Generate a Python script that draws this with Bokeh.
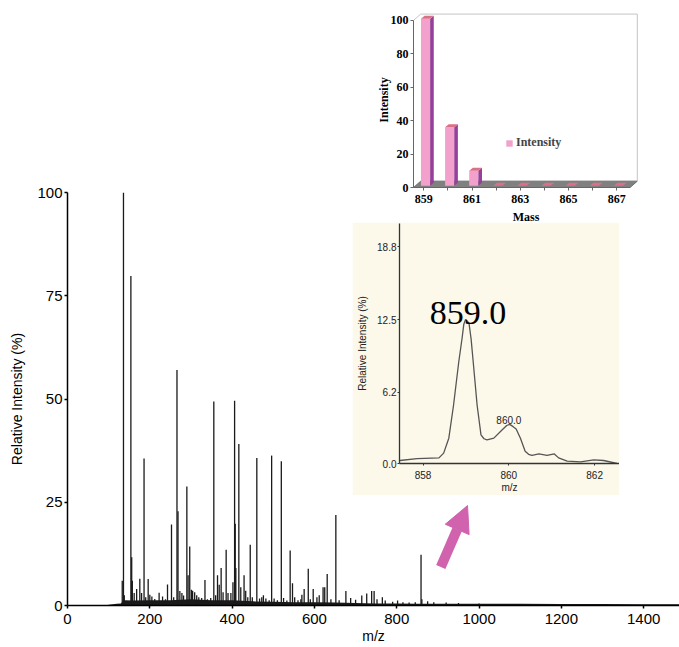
from bokeh.plotting import figure
from bokeh.layouts import column
from bokeh.models import (Range1d, SingleIntervalTicker, FixedTicker, NumeralTickFormatter,
                          Arrow, NormalHead, Legend, LegendItem)
from bokeh.core.properties import value
from bokeh.embed import file_html
from bokeh.resources import INLINE

# ---------------- data: full MS spectrum ----------------
peak_mz = [133, 136, 138, 154, 156, 157.5, 162, 168, 175.7, 180, 186, 190, 196, 200, 205, 212,
           222.6, 231, 238, 243, 252.7, 258, 266, 268.5, 273, 278, 282, 290, 293, 297, 301, 304,
           309, 314, 319, 326, 334, 340, 348, 355.5, 360, 364.5, 368.6, 373.3, 378, 385.5, 390,
           397, 402, 406, 407.5, 409, 416.3, 421, 429, 433, 438, 444, 449, 460, 466.7, 472, 476,
           482, 490, 496, 502, 510, 519.5, 525, 533, 541, 546.7, 552, 560, 567, 569.5, 575, 585,
           590, 597, 606, 611.6, 621, 625, 631, 640, 652, 660, 676.4, 688, 700, 715, 727, 739,
           745, 752, 765, 772, 790, 802, 815, 830, 845, 859, 861, 875, 890, 920, 950, 1000]
peak_int = [6, 100, 2.5, 79.8, 11.7, 6, 3, 4, 6.5, 3, 35.6, 2, 6.4, 2.6, 2.2, 1.6,
            3.1, 2.2, 1.5, 5.1, 19.6, 2, 57, 22.8, 3.5, 3.0, 2.4, 28.8, 7.3, 14.3, 3.8, 3.6,
            3.2, 2.5, 2, 1.8, 6.2, 1.5, 1.8, 49.4, 2.5, 7.3, 5, 9.1, 3.2, 13.5, 3,
            3, 5.6, 49.6, 19.8, 9.1, 39.1, 4.4, 7.3, 3.6, 2, 14.7, 2, 35.7, 1.7, 2, 2.5,
            1.7, 1.3, 36.3, 1.7, 1.3, 34.9, 1.8, 1.2, 13.3, 5.4, 2, 1.3, 1.5, 2.6, 4, 8.9,
            1.5, 4, 2, 2.5, 4.4, 4.4, 7.6, 1.5, 21.9, 1.3, 3.5, 1.8, 1.4, 2.4, 2.9, 3.5,
            3.5, 1.5, 2.0, 1.2, 0.9, 1.2, 0.8, 0.7, 0.8, 12.3, 1.5, 1.0, 0.8, 0.7, 0.6, 0.5]
base_mz = [95, 100, 110, 120, 130, 135, 140, 160, 200, 250, 300, 350, 400, 450, 500, 550, 600,
           650, 700, 750, 800, 850, 900, 950, 1000, 1100, 1200, 1300, 1400, 1487]
base_int = [0, 0.2, 0.3, 0.4, 0.5, 1.2, 1.3, 1.2, 1.3, 1.3, 1.5, 1.3, 1.3, 1.0, 0.9, 0.8, 0.8,
            0.7, 0.6, 0.5, 0.5, 0.45, 0.45, 0.45, 0.45, 0.4, 0.35, 0.35, 0.3, 0.3]

# ---------------- data: zoomed isotope region ----------------
zoom_mz = [857.46, 857.86, 858.37, 858.48, 858.60, 858.71, 858.83, 858.91, 858.95, 858.99,
           859.07, 859.12, 859.17, 859.26, 859.35, 859.42, 859.49, 859.65, 859.84, 859.95,
           860.02, 860.10, 860.17, 860.27, 860.38, 860.46, 860.54, 860.70, 860.89, 861.06,
           861.16, 861.36, 861.67, 861.98, 862.21, 862.52]
zoom_int = [0.26, 0.43, 0.49, 0.9, 2.2, 5.06, 8.77, 10.9, 12.1, 12.5,
            12.2, 10.8, 8.77, 5.06, 2.49, 2.15, 2.06, 2.2, 2.91, 3.3,
            3.4, 3.2, 3.0, 2.2, 1.06, 0.8, 0.71, 0.83, 0.71, 0.83,
            0.49, 0.2, 0.14, 0.31, 0.26, 0.0]
zoom_labels = ["859.0", "860.0"]
zoom_label_mz = [859.05, 860.0]
zoom_label_int = [13.1, 3.75]

# ---------------- data: theoretical isotope bars ----------------
bar_mass = [859, 860, 861, 862, 863, 864, 865, 866, 867]
bar_int = [100, 35, 9, 0, 0, 0, 0, 0, 0]

INK = "#1a1a1a"
ARROW = "#D062AE"
BEIGE = "#FCF8EA"
PINK = "#F3A0CD"
PURPLE = "#95409A"
TOPC = "#DC7088"

MAIN_W, MAIN_H = 679, 647

# ================= main spectrum =================
p = figure(width=MAIN_W, height=MAIN_H, x_range=Range1d(0, 1487), y_range=Range1d(0, 100),
           output_backend="svg", toolbar_location=None, frame_align=False,
           min_border_left=67, min_border_right=0, min_border_top=192, min_border_bottom=42)
p.outline_line_color = None
p.grid.visible = False
p.background_fill_alpha = 0
p.varea(x=base_mz, y1=[0] * len(base_mz), y2=base_int, fill_color=INK)
p.segment(x0=peak_mz, y0=[0] * len(peak_mz), x1=peak_mz, y1=peak_int,
          line_color=INK, line_width=1.3)
p.xaxis.ticker = SingleIntervalTicker(interval=200, num_minor_ticks=0)
p.yaxis.ticker = SingleIntervalTicker(interval=25, num_minor_ticks=0)
p.yaxis.bounds = (0, 100)
p.xaxis.axis_label = "m/z"
p.yaxis.axis_label = "Relative Intensity (%)"
for ax in (p.xaxis[0], p.yaxis[0]):
    ax.axis_line_width = 1.5
    ax.axis_line_color = "black"
    ax.major_tick_out = 3
    ax.major_tick_in = 0
    ax.minor_tick_out = 0
    ax.minor_tick_in = 0
    ax.major_tick_line_width = 1.5
    ax.major_label_text_font = "Liberation Sans"
    ax.major_label_text_font_size = "15px"
    ax.major_label_text_color = "black"
    ax.axis_label_text_font = "Liberation Sans"
    ax.axis_label_text_font_size = "14px"
    ax.axis_label_text_font_style = "normal"
    ax.axis_label_text_color = "black"
p.xaxis.major_label_standoff = 5
p.xaxis.axis_label_standoff = 1
p.yaxis.major_label_standoff = 2
p.yaxis.axis_label_standoff = 9

p.add_layout(Arrow(end=NormalHead(size=26, fill_color=ARROW, line_color=ARROW),
                   x_start=907, y_start=9.3, x_end=972, y_end=24.2,
                   line_color=ARROW, line_width=10))

# ================= 3-D bar inset =================
X0, X1 = 858.57, 867.55
DX, DY = 0.30, 3.8        # floor depth
W2 = 0.19                 # half bar width
BDX, BDY = 0.07, 1.0      # bar base offset into floor
dxb, dyb = 0.15, 1.8      # bar depth

pb = figure(width=285, height=218, x_range=Range1d(X0, 867.9), y_range=Range1d(0, 104.75),
            output_backend="svg", toolbar_location=None, frame_align=False,
            min_border_left=53, min_border_right=7, min_border_top=4, min_border_bottom=38)
pb.margin = (8 - MAIN_H, 0, 0, 360)
pb.outline_line_color = None
pb.grid.visible = False
pb.background_fill_alpha = 0
pb.border_fill_alpha = 0

pb.patch(x=[X0, X1, X1 + DX, X0 + DX], y=[0, 0, DY, DY], fill_color="#808080",
         line_color="#6e6e6e", line_width=1)
pb.line(x=[X0, X0 + DX, X1 + DX, X1 + DX], y=[100, 100 + DY, 100 + DY, DY],
        line_color="#c4c4c4", line_width=1)

fl = [m - W2 + BDX for m in bar_mass]
fr = [m + W2 + BDX for m in bar_mass]
front = pb.quad(left=fl, right=fr, bottom=[BDY] * len(bar_mass), top=[v + BDY for v in bar_int],
                fill_color=PINK, line_color=None)
side_xs = [[r, r + dxb, r + dxb, r] for r in fr]
side_ys = [[BDY, BDY + dyb, v + BDY + dyb, v + BDY] for v in bar_int]
pb.patches(xs=side_xs, ys=side_ys, fill_color=PURPLE, line_color=None)
top_xs = [[l, r, r + dxb, l + dxb] for l, r in zip(fl, fr)]
top_ys = [[v + BDY, v + BDY, v + BDY + dyb, v + BDY + dyb] for v in bar_int]
pb.patches(xs=top_xs, ys=top_ys, fill_color=TOPC, line_color=None)

pb.xaxis.ticker = FixedTicker(ticks=[859, 861, 863, 865, 867], minor_ticks=[860, 862, 864, 866])
pb.xaxis.bounds = (X0, X1)
pb.yaxis.ticker = SingleIntervalTicker(interval=20, num_minor_ticks=0)
pb.yaxis.bounds = (0, 100)
pb.xaxis.axis_label = "Mass"
pb.yaxis.axis_label = "Intensity"
for ax in (pb.xaxis[0], pb.yaxis[0]):
    ax.axis_line_color = "#666666"
    ax.major_tick_line_color = "#666666"
    ax.minor_tick_line_color = "#666666"
    ax.major_tick_out = 3
    ax.major_tick_in = 0
    ax.minor_tick_out = 3
    ax.minor_tick_in = 0
    ax.major_label_text_font = "Liberation Serif"
    ax.major_label_text_font_style = "bold"
    ax.major_label_text_font_size = "12px"
    ax.major_label_text_color = "black"
    ax.axis_label_text_font = "Liberation Serif"
    ax.axis_label_text_font_style = "bold"
    ax.axis_label_text_font_size = "12px"
    ax.axis_label_text_color = "black"
pb.yaxis.major_label_standoff = 2
pb.yaxis.axis_label_standoff = -3
pb.xaxis.major_label_standoff = 4
pb.xaxis.axis_label_standoff = 4

legend = Legend(items=[LegendItem(label="Intensity", renderers=[front])],
                location=(92, 37), padding=0, margin=0, border_line_color=None,
                background_fill_alpha=0, glyph_width=8, glyph_height=8, label_height=12,
                label_standoff=3, label_text_font="Liberation Serif",
                label_text_font_style="bold", label_text_font_size="12px")
pb.add_layout(legend)

# ================= zoomed spectrum inset =================
pz = figure(width=267, height=273, x_range=Range1d(857.45, 862.58), y_range=Range1d(0, 20.84),
            output_backend="svg", toolbar_location=None, frame_align=False,
            background_fill_color=BEIGE, border_fill_color=BEIGE,
            min_border_left=47, min_border_right=0, min_border_top=1, min_border_bottom=29)
pz.margin = (-4, 0, 0, 352)
pz.outline_line_color = None
pz.grid.visible = False
pz.line(x=zoom_mz, y=zoom_int, line_color="#555555", line_width=1.3)
pz.text(x=zoom_label_mz[:1], y=zoom_label_int[:1], text=zoom_labels[:1],
        text_font=value("Liberation Serif"), text_font_size="34px",
        text_align="center", text_baseline="alphabetic", text_color="black")
pz.text(x=zoom_label_mz[1:], y=zoom_label_int[1:], text=zoom_labels[1:],
        text_font=value("Liberation Sans"), text_font_size="10px",
        text_align="center", text_baseline="alphabetic", text_color="#222222")
pz.xaxis.ticker = FixedTicker(ticks=[858, 860, 862])
pz.yaxis.ticker = FixedTicker(ticks=[0.0, 6.2, 12.5, 18.8])
pz.yaxis.formatter = NumeralTickFormatter(format="0.0")
pz.xaxis.axis_label = "m/z"
pz.yaxis.axis_label = "Relative Intensity (%)"
for ax in (pz.xaxis[0], pz.yaxis[0]):
    ax.axis_line_color = "#333333"
    ax.axis_line_width = 1.3
    ax.major_tick_line_color = "#333333"
    ax.major_tick_out = 2
    ax.major_tick_in = 0
    ax.minor_tick_out = 0
    ax.minor_tick_in = 0
    ax.major_label_text_font = "Liberation Sans"
    ax.major_label_text_font_size = "10px"
    ax.major_label_text_color = "#222222"
    ax.axis_label_text_font = "Liberation Sans"
    ax.axis_label_text_font_size = "10px"
    ax.axis_label_text_font_style = "normal"
    ax.axis_label_text_color = "#222222"
pz.xaxis.major_label_standoff = 5
pz.xaxis.axis_label_standoff = 0
pz.yaxis.major_label_standoff = 1
pz.yaxis.axis_label_standoff = 6

layout = column(p, pb, pz)
open("out.html", "w").write(file_html(layout, INLINE))
